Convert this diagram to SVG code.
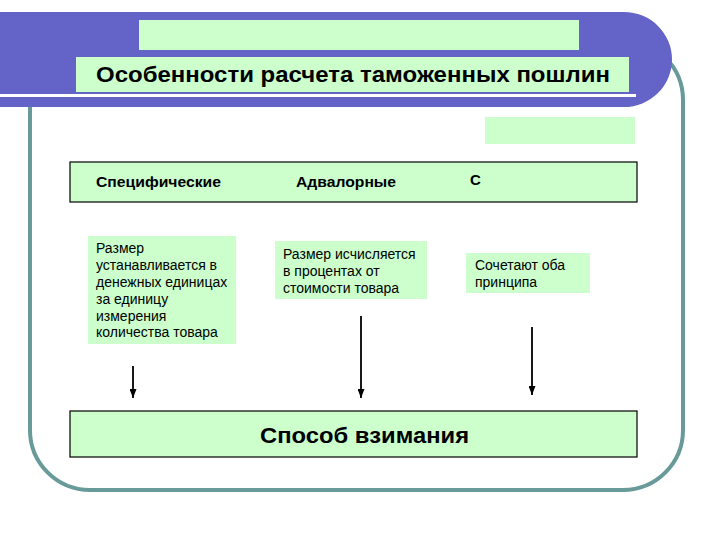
<svg xmlns="http://www.w3.org/2000/svg" width="720" height="540" viewBox="0 0 720 540">
<defs>
<style>
.g{fill:#ccffcc}
.b{fill:#ccffcc;stroke:#000;stroke-width:1.2}
.h{font-family:"Liberation Sans",Arial,sans-serif;font-weight:bold;fill:#000}
.t{font-family:"Liberation Sans",Arial,sans-serif;font-size:14px;fill:#000}
.c{stroke:#000;stroke-width:1.8;fill:none;marker-end:url(#ah)}
</style>
<marker id="ah" markerWidth="9" markerHeight="7" refX="9" refY="3.5" orient="auto" markerUnits="userSpaceOnUse" viewBox="0 0 9 7">
<path d="M0,0 L9,3.5 L0,7 Z" fill="#000"/>
</marker>
</defs>
<rect width="720" height="540" fill="#fff"/>
<g id="frame">
<rect x="30" y="40" width="653" height="450" rx="60" ry="60" fill="none" stroke="#689a9a" stroke-width="4"/>
<path d="M0,12 H624 A48,47.5 0 0 1 624,107 H0 Z" fill="#6464c8"/>
<rect x="0" y="94" width="636" height="3" fill="#fff"/>
<rect x="139" y="20" width="440" height="30" class="g"/>
<rect x="485" y="117" width="150" height="27" class="g"/>
</g>
<g id="title">
<rect x="76" y="57" width="553" height="35" class="g"/>
<text x="96" y="82" class="h" font-size="22" textLength="514" lengthAdjust="spacingAndGlyphs">Особенности расчета таможенных пошлин</text>
</g>
<g id="header">
<rect x="70" y="162" width="567" height="40" class="b"/>
<text x="96" y="187" class="h" font-size="15" textLength="125" lengthAdjust="spacingAndGlyphs">Специфические</text>
<text x="296" y="187" class="h" font-size="15" textLength="100" lengthAdjust="spacingAndGlyphs">Адвалорные</text>
<text x="470" y="185" class="h" font-size="15">С</text>
</g>
<g id="specific">
<rect x="88" y="236" width="148" height="108" class="g"/>
<text class="t"><tspan x="96" y="253">Размер</tspan><tspan x="96" y="270">устанавливается в</tspan><tspan x="96" y="287">денежных единицах</tspan><tspan x="96" y="304">за единицу</tspan><tspan x="96" y="321">измерения</tspan><tspan x="96" y="337">количества товара</tspan></text>
</g>
<g id="advalorem">
<rect x="275" y="241" width="152" height="58" class="g"/>
<text class="t"><tspan x="283" y="259">Размер исчисляется</tspan><tspan x="283" y="276">в процентах от</tspan><tspan x="283" y="293">стоимости товара</tspan></text>
</g>
<g id="combined">
<rect x="466" y="253" width="124" height="40" class="g"/>
<text class="t"><tspan x="475" y="270">Сочетают оба</tspan><tspan x="475" y="287">принципа</tspan></text>
</g>
<g id="method">
<rect x="70" y="411" width="567" height="46" class="b"/>
<text x="260" y="443" class="h" font-size="22" textLength="209" lengthAdjust="spacingAndGlyphs">Способ взимания</text>
</g>
<g id="connectors">
<path d="M133,366 V398" class="c"/>
<path d="M361,316 V398" class="c"/>
<path d="M532,327 V395" class="c"/>
</g>
</svg>
